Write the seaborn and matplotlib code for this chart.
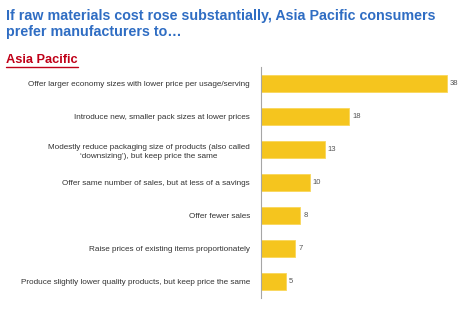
import matplotlib
matplotlib.use("Agg")
import matplotlib.pyplot as plt
import seaborn as sns
import pandas as pd
import numpy as np

categories = [
    "Offer larger economy sizes with lower price per usage/serving",
    "Introduce new, smaller pack sizes at lower prices",
    "Modestly reduce packaging size of products (also called\n\u2018downsizing\u2019), but keep price the same",
    "Offer same number of sales, but at less of a savings",
    "Offer fewer sales",
    "Raise prices of existing items proportionately",
    "Produce slightly lower quality products, but keep price the same",
]
values = [38, 18, 13, 10, 8, 7, 5]

sns.set_style("white")
plt.rcParams['font.family'] = ['Liberation Sans', 'DejaVu Sans']

df = pd.DataFrame({"cat": categories, "val": values})

fig = plt.figure(figsize=(4.6, 3.25), dpi=100)
ax = fig.add_axes([261/460, 27/325, 196/460, 231/325])
sns.barplot(data=df, y="cat", x="val", orient="h", color="#F5C51E",
            width=0.5, ax=ax, saturation=1, edgecolor="#F9D75A", linewidth=0.6)
ax.set_xlim(0, 40)
ax.set_ylim(len(categories) - 0.5, -0.5)
ax.set_xlabel("")
ax.set_ylabel("")
ax.set_xticks([])
for s in ["top", "right", "bottom"]:
    ax.spines[s].set_visible(False)
ax.spines["left"].set_color("#A6A6A6")
ax.spines["left"].set_linewidth(0.8)
ax.tick_params(axis="y", which="major", length=0, pad=8, labelsize=5.9, labelcolor="#333333")
ax.set_yticks(np.arange(-0.5, len(categories), 1), minor=True)
ax.tick_params(axis="y", which="minor", length=3, color="#A6A6A6", width=0.8)
for lbl in ax.get_yticklabels():
    lbl.set_multialignment("center")
    lbl.set_linespacing(1.45)

for i, v in enumerate(values):
    ax.text(v + 0.6, i, str(v), va="center", ha="left", fontsize=5.5, color="#555555")

fig.text(6/460, 1 - 24/325, "If raw materials cost rose substantially, Asia Pacific consumers\nprefer manufacturers to\u2026",
         ha="left", va="center", fontsize=10.3, fontweight="bold", color="#2F6DC3", linespacing=1.25)
fig.text(6/460, 1 - 60/325, "Asia Pacific", ha="left", va="center", fontsize=9.2,
         fontweight="bold", color="#C00018")
# underline
fig.add_artist(plt.Line2D([6/460, 78/460], [1 - 66.5/325, 1 - 66.5/325], color="#C00018", linewidth=1.0))

fig.savefig("out.png", dpi=100, facecolor="white")
